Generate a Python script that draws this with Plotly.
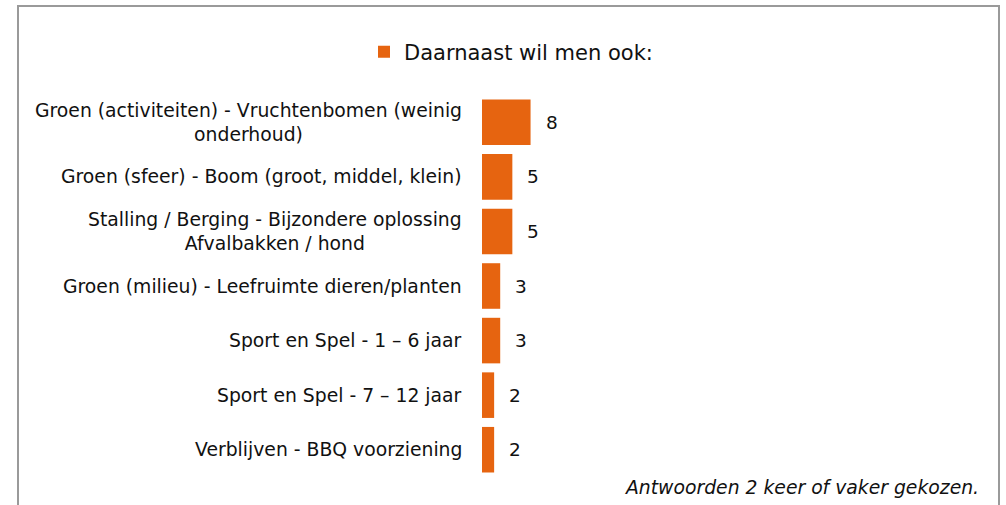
import plotly.graph_objects as go

categories = [
    "Groen (activiteiten) - Vruchtenbomen (weinig<br>onderhoud)",
    "Groen (sfeer) - Boom (groot, middel, klein)",
    "Stalling / Berging - Bijzondere oplossing<br>Afvalbakken / hond",
    "Groen (milieu) - Leefruimte dieren/planten",
    "Sport en Spel - 1 \u2013 6 jaar",
    "Sport en Spel - 7 \u2013 12 jaar",
    "Verblijven - BBQ voorziening",
]
values = [8, 5, 5, 3, 3, 2, 2]
series_name = "Daarnaast wil men ook:"
footnote = "Antwoorden 2 keer of vaker gekozen."

FONT = "DejaVu Sans"
ORANGE = "#E66410"
TXT = "#111111"

W, H = 1006, 505
ML, MR, MT, MB = 482, 36, 95, 28
pw = W - ML - MR
ph = H - MT - MB

def px_x(x):
    return (x - ML) / pw

def px_y(y):
    return (H - MB - y) / ph

fig = go.Figure()
fig.add_trace(go.Bar(
    y=categories, x=values, orientation="h",
    marker=dict(color=ORANGE, line=dict(width=0)),
    name=series_name, showlegend=True,
))

for c, v in zip(categories, values):
    fig.add_annotation(x=0, y=c, xref="x", yref="y", text=c, showarrow=False,
                       xanchor="right", yanchor="middle", align="center", xshift=-18,
                       font=dict(family=FONT, size=18.8, color=TXT))
    fig.add_annotation(x=v, y=c, xref="x", yref="y", text=str(v), showarrow=False,
                       xanchor="left", yanchor="middle", xshift=13,
                       font=dict(family=FONT, size=18.5, color=TXT))

fig.add_annotation(x=px_x(981), y=px_y(487), xref="paper", yref="paper", text="<i>" + footnote + "</i>",
                   showarrow=False, xanchor="right", yanchor="middle",
                   font=dict(family=FONT, size=18.8, color=TXT))

fig.add_shape(type="rect", xref="paper", yref="paper",
              x0=px_x(18), x1=px_x(999), y0=px_y(520), y1=px_y(6),
              line=dict(color="#9A9A9A", width=2), fillcolor="rgba(0,0,0,0)", layer="below")

fig.update_layout(
    width=W, height=H,
    margin=dict(l=ML, r=MR, t=MT, b=MB),
    paper_bgcolor="white", plot_bgcolor="white",
    bargap=0.165,
    font=dict(family=FONT, size=18, color=TXT),
    xaxis=dict(range=[0, pw / 6.07], visible=False, fixedrange=True),
    yaxis=dict(autorange="reversed", showticklabels=False, showgrid=False, zeroline=False,
               showline=False, ticks="", fixedrange=True),
    legend=dict(orientation="h", x=px_x(364), xanchor="left", y=px_y(52), yanchor="middle",
                font=dict(family=FONT, size=21, color=TXT), bgcolor="rgba(0,0,0,0)",
                itemclick=False, itemdoubleclick=False),
)

fig.write_html("out.html", config={"displayModeBar": False},
               post_script="document.body.style.margin='0';")
